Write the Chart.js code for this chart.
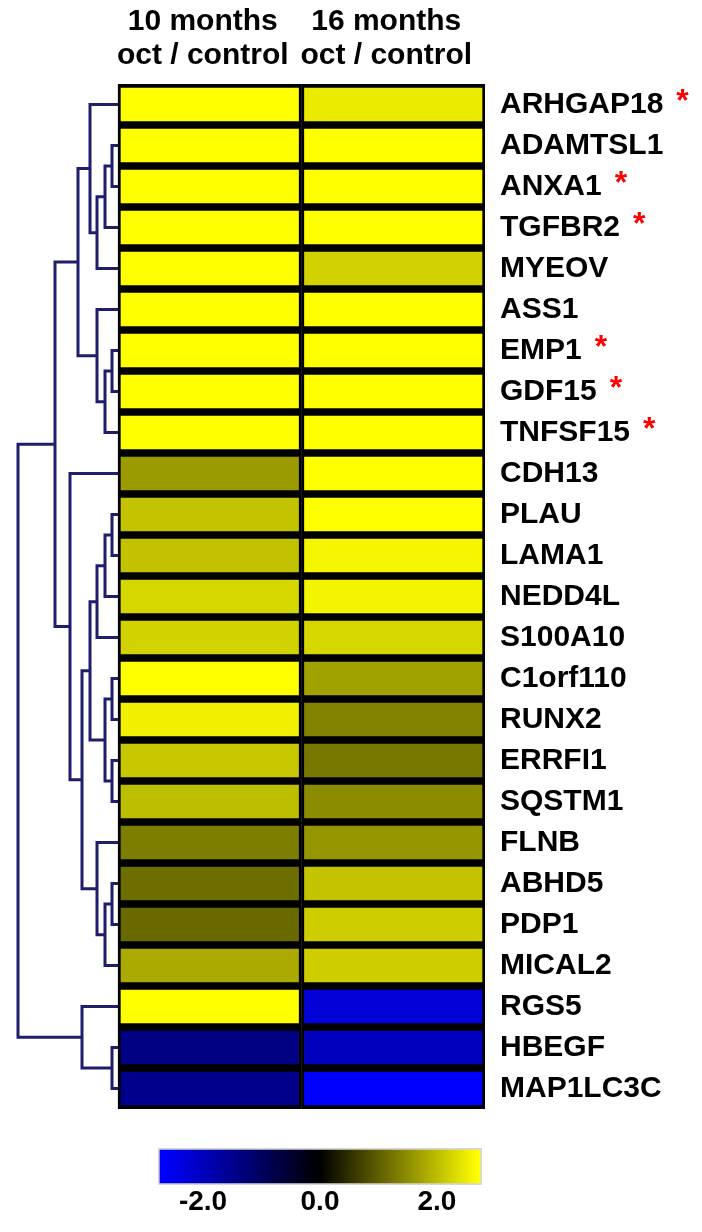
<!DOCTYPE html>
<html>
<head>
<meta charset="utf-8">
<script src="https://cdn.jsdelivr.net/npm/chart.js@4.4.1/dist/chart.umd.min.js"></script>
<style>
  html, body { margin: 0; padding: 0; background: #fff; }
  #wrap { position: relative; width: 702px; height: 1232px; }
  #heat { position: absolute; left: 0; top: 0; }
  #scale { position: absolute; left: 0; top: 1140px; }
</style>
</head>
<body>
<div id="wrap">
  <canvas id="heat" width="702" height="1140"></canvas>
  <canvas id="scale" width="702" height="92"></canvas>
</div>
<script>
// rows, top to bottom
const GENES = ['ARHGAP18', 'ADAMTSL1', 'ANXA1', 'TGFBR2', 'MYEOV', 'ASS1', 'EMP1', 'GDF15', 'TNFSF15',
  'CDH13', 'PLAU', 'LAMA1', 'NEDD4L', 'S100A10', 'C1orf110', 'RUNX2', 'ERRFI1', 'SQSTM1', 'FLNB',
  'ABHD5', 'PDP1', 'MICAL2', 'RGS5', 'HBEGF', 'MAP1LC3C'];
const STARRED = ['ARHGAP18', 'ANXA1', 'TGFBR2', 'EMP1', 'GDF15', 'TNFSF15'];
const COLUMN_TITLES = [['10 months', 'oct / control'], ['16 months', 'oct / control']];

// log ratio oct / control
const OCT_10M = [2.9, 3.1, 3.0, 2.9, 3.2, 3.0, 3.3, 3.1, 2.9, 1.64, 2.07, 2.05, 2.28, 2.22, 2.8,
  2.54, 2.12, 2.01, 1.32, 1.16, 1.11, 1.8, 2.9, -1.38, -1.48];
const OCT_16M = [2.49, 3.0, 3.0, 2.8, 2.22, 2.9, 3.1, 2.9, 2.8, 2.9, 2.75, 2.6, 2.58, 2.28, 1.7,
  1.38, 1.27, 1.48, 1.59, 2.07, 2.17, 2.17, -2.28, -2.01, -2.9];

// dendrogram: [left, right, height], leaves are row numbers, merged nodes get 25, 26, ...
const MERGES = [
  [1, 2, 0.06], [25, 3, 0.13], [26, 4, 0.21], [0, 27, 0.28],          // 25..28
  [6, 7, 0.06], [29, 8, 0.13], [5, 30, 0.21],                          // 29..31
  [28, 31, 0.40],                                                      // 32
  [10, 11, 0.06], [33, 12, 0.13], [34, 13, 0.21],                      // 33..35
  [14, 15, 0.06], [16, 17, 0.06], [36, 37, 0.13], [35, 38, 0.28],      // 36..39
  [19, 20, 0.06], [40, 21, 0.13], [18, 41, 0.21], [39, 42, 0.36],      // 40..43
  [9, 43, 0.48], [32, 44, 0.63],                                       // 44, 45
  [23, 24, 0.06], [22, 46, 0.36],                                      // 46, 47
  [45, 47, 1.0]                                                        // 48 root
];

const SCALE_TICKS = [-2, 0, 2];
const SCALE_MAX = 2.77;   // ends of the colour bar
const SATURATE = 2.7;     // full yellow / full blue from here on
const DENDRO_WIDTH = 0.545; // root distance, in column widths

const FONT = "'Liberation Sans', Arial, sans-serif";
Chart.defaults.font.family = FONT;
Chart.defaults.color = '#000';

function cellColor(v) {
  const t = Math.min(Math.abs(v) / SATURATE, 1);
  const c = Math.round(255 * t);
  return v >= 0 ? `rgb(${c},${c},0)` : `rgb(0,0,${c})`;
}

// keep the axes from pushing the plot area in
function noPadding(s) {
  s.paddingLeft = 0;
  s.paddingRight = 0;
  s.paddingTop = 0;
  s.paddingBottom = 0;
}

// turn the merge list into elbow links
function dendroLinks() {
  const nodes = GENES.map((g, i) => ({ y: i, h: 0 }));
  const links = [];
  MERGES.forEach(([a, b, h]) => {
    const A = nodes[a], B = nodes[b];
    links.push([
      { x: -A.h * DENDRO_WIDTH, y: A.y },
      { x: -h * DENDRO_WIDTH, y: A.y },
      { x: -h * DENDRO_WIDTH, y: B.y },
      { x: -B.h * DENDRO_WIDTH, y: B.y }
    ]);
    nodes.push({ y: (A.y + B.y) / 2, h: h });
  });
  return links;
}

function heatColumn(values, col) {
  return {
    type: 'bar',
    indexAxis: 'y',
    data: values.map((v, i) => ({ x: [col, col + 1], y: i })),
    backgroundColor: values.map(cellColor),
    borderColor: '#000',
    borderWidth: { top: 4, bottom: 4, left: 3, right: 3 },
    borderSkipped: false,
    grouped: false,
    barPercentage: 1,
    categoryPercentage: 1
  };
}

const linkSets = dendroLinks().map(pts => ({
  type: 'line',
  indexAxis: 'x',
  data: pts,
  borderColor: '#1e1e6c',
  borderWidth: 3,
  pointRadius: 0,
  tension: 0,
  fill: false,
  clip: false
}));

// red stars after the flagged gene names
const starPlugin = {
  id: 'stars',
  afterDraw(chart) {
    const ys = chart.scales.y;
    const ctx = chart.ctx;
    ctx.save();
    ctx.font = 'bold 32px ' + FONT;
    ctx.fillStyle = '#ff0000';
    ctx.textBaseline = 'alphabetic';
    GENES.forEach((g, i) => {
      if (!STARRED.includes(g)) return;
      ctx.font = 'bold 30px ' + FONT;
      const x = ys.left + 15 + ctx.measureText(g).width + 13;
      ctx.font = 'bold 32px ' + FONT;
      ctx.fillText('*', x, ys.getPixelForValue(i) + 6);
    });
    ctx.restore();
  }
};

new Chart(document.getElementById('heat'), {
  type: 'bar',
  data: { datasets: [heatColumn(OCT_10M, 0), heatColumn(OCT_16M, 1)].concat(linkSets) },
  options: {
    responsive: false,
    animation: false,
    layout: { padding: { left: 18, right: 0, top: 0, bottom: 31 } },
    plugins: { legend: { display: false }, tooltip: { enabled: false } },
    scales: {
      x: {
        type: 'linear',
        position: 'top',
        offset: false,
        min: -DENDRO_WIDTH,
        max: 2,
        grid: { display: false, drawTicks: false, offset: false },
        border: { display: false },
        afterBuildTicks: s => { s.ticks = COLUMN_TITLES.map((t, i) => ({ value: i + 0.5 })); },
        afterFit: s => { s.height = 84; noPadding(s); },
        ticks: {
          callback: (v, i) => COLUMN_TITLES[i],
          font: { size: 30, weight: 'bold', lineHeight: 1.13 },
          padding: 11,
          labelOffset: -7,
          maxRotation: 0,
          autoSkip: false
        }
      },
      y: {
        type: 'linear',
        position: 'right',
        offset: false,
        min: -0.5,
        max: GENES.length - 0.5,
        reverse: true,
        grid: { display: false, drawTicks: false, offset: false },
        border: { display: false },
        afterBuildTicks: s => { s.ticks = GENES.map((g, i) => ({ value: i })); },
        afterFit: s => { s.width = 217; noPadding(s); },
        ticks: {
          callback: v => GENES[v],
          font: { size: 30, weight: 'bold' },
          padding: 15,
          autoSkip: false
        }
      }
    }
  },
  plugins: [starPlugin]
});

// colour key
function keyGradient(chart) {
  const area = chart.chartArea;
  if (!area) return '#000';
  const xs = chart.scales.x;
  const g = chart.ctx.createLinearGradient(xs.getPixelForValue(-SCALE_MAX), 0, xs.getPixelForValue(SCALE_MAX), 0);
  [-SCALE_MAX, -SATURATE, 0, SATURATE, SCALE_MAX].forEach(v => {
    g.addColorStop((v + SCALE_MAX) / (2 * SCALE_MAX), cellColor(v));
  });
  return g;
}

new Chart(document.getElementById('scale'), {
  type: 'bar',
  data: {
    datasets: [{
      indexAxis: 'y',
      data: [{ x: [-SCALE_MAX, SCALE_MAX], y: 0 }],
      backgroundColor: ctx => keyGradient(ctx.chart),
      borderColor: '#d6d6d6',
      borderWidth: 2,
      borderSkipped: false,
      barPercentage: 1,
      categoryPercentage: 1
    }]
  },
  options: {
    responsive: false,
    animation: false,
    layout: { padding: { left: 158, right: 220, top: 8, bottom: 0 } },
    plugins: { legend: { display: false }, tooltip: { enabled: false } },
    scales: {
      x: {
        type: 'linear',
        offset: false,
        min: -SCALE_MAX,
        max: SCALE_MAX,
        grid: { display: false, drawTicks: false, offset: false },
        border: { display: false },
        afterBuildTicks: s => { s.ticks = SCALE_TICKS.map(v => ({ value: v })); },
        afterFit: s => { s.height = 47; noPadding(s); },
        ticks: {
          callback: v => v.toFixed(1),
          font: { size: 28, weight: 'bold' },
          padding: 0,
          maxRotation: 0
        }
      },
      y: {
        type: 'linear',
        offset: false,
        min: -0.5,
        max: 0.5,
        display: false,
        afterBuildTicks: s => { s.ticks = [{ value: 0 }]; }
      }
    }
  }
});
</script>
</body>
</html>
